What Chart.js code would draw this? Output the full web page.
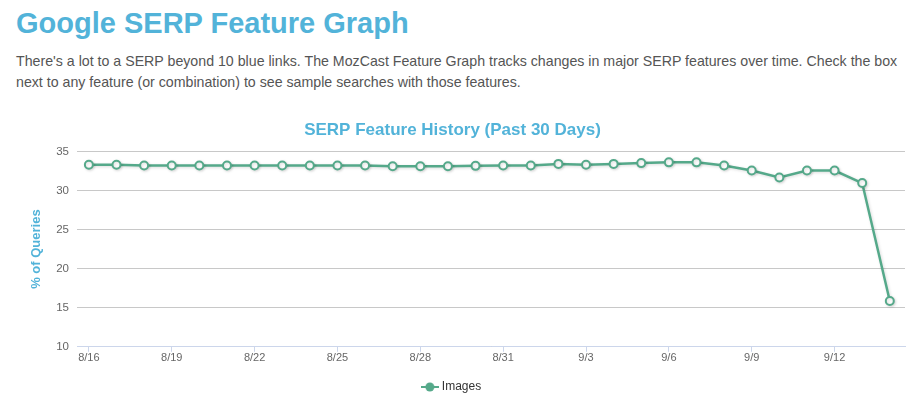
<!DOCTYPE html>
<html>
<head>
<meta charset="utf-8">
<script src="https://cdn.jsdelivr.net/npm/chart.js@4/dist/chart.umd.min.js"></script>
<style>
  html, body { margin: 0; padding: 0; background: #fff; }
  body { width: 916px; height: 403px; overflow: hidden; position: relative; font-family: "Liberation Sans", Arial, sans-serif; }
  h1 { position: absolute; left: 16px; top: 7px; margin: 0; font-size: 29px; font-weight: bold; color: #52b3d9; }
  p { position: absolute; left: 16px; top: 51px; margin: 0; font-size: 14.2px; line-height: 21px; color: #555; }
  #wrap { position: absolute; left: 0; top: 108px; width: 916px; height: 295px; }
</style>
</head>
<body>
<h1>Google SERP Feature Graph</h1>
<p>There's a lot to a SERP beyond 10 blue links. The MozCast Feature Graph tracks changes in major SERP features over time. Check the box<br>next to any feature (or combination) to see sample searches with those features.</p>
<div id="wrap"><canvas id="chart"></canvas></div>
<script>
// ---------- Data ----------
const days = ["8/16", "8/17", "8/18", "8/19", "8/20", "8/21", "8/22", "8/23", "8/24", "8/25",
  "8/26", "8/27", "8/28", "8/29", "8/30", "8/31", "9/1", "9/2", "9/3", "9/4",
  "9/5", "9/6", "9/7", "9/8", "9/9", "9/10", "9/11", "9/12", "9/13", "9/14"];
const images = [33.3, 33.3, 33.2, 33.2, 33.2, 33.2, 33.2, 33.2, 33.2, 33.2,
  33.2, 33.1, 33.1, 33.1, 33.15, 33.2, 33.2, 33.4, 33.3, 33.4,
  33.5, 33.6, 33.6, 33.2, 32.55, 31.65, 32.55, 32.55, 30.95, 15.85];
const yTicks = [10, 15, 20, 25, 30, 35];
const labelEvery = 3;

const green = "#55a98a";
const blue = "#52b3d9";

// legend marker: short line with a filled dot
const marker = document.createElement("canvas");
marker.width = 18; marker.height = 12;
(function () {
  const c = marker.getContext("2d");
  c.strokeStyle = green; c.lineWidth = 2;
  c.beginPath(); c.moveTo(0, 6); c.lineTo(18, 6); c.stroke();
  c.fillStyle = green;
  c.beginPath(); c.arc(9, 6, 4.5, 0, Math.PI * 2); c.fill();
})();

const shadow = {
  id: "shadow",
  beforeDatasetsDraw(chart) {
    const ctx = chart.ctx;
    ctx.save();
    ctx.shadowColor = "rgba(0,0,0,0.15)";
    ctx.shadowOffsetX = 1;
    ctx.shadowOffsetY = 1;
    ctx.shadowBlur = 3;
  },
  afterDatasetsDraw(chart) {
    chart.ctx.restore();
  },
};

new Chart(document.getElementById("chart"), {
  type: "line",
  data: {
    datasets: [{
      label: "Images",
      data: images.map((v, i) => ({ x: i, y: v })),
      borderColor: green,
      borderWidth: 2.5,
      pointRadius: 4,
      pointBorderWidth: 2,
      pointBackgroundColor: "#fff",
      pointBorderColor: green,
      tension: 0,
    }],
  },
  plugins: [shadow],
  options: {
    responsive: true,
    maintainAspectRatio: false,
    animation: false,
    layout: { padding: { left: 0, right: 11, top: 0, bottom: 0 } },
    plugins: {
      title: {
        display: true,
        text: "SERP Feature History (Past 30 Days)",
        color: blue,
        font: { family: "Liberation Sans", size: 17, weight: "bold" },
        padding: { top: 12, bottom: 11 },
      },
      legend: {
        position: "bottom",
        labels: {
          usePointStyle: true,
          pointStyle: marker,
          color: "#333",
          font: { family: "Liberation Sans", size: 12 },
          padding: 16,
        },
      },
      tooltip: { enabled: false },
    },
    scales: {
      x: {
        type: "linear",
        min: -0.43,
        max: 29.55,
        afterBuildTicks: (s) => {
          s.ticks = days.map((d, i) => ({ value: i })).filter((t) => t.value % labelEvery === 0);
        },
        ticks: {
          color: "#666",
          font: { family: "Liberation Sans", size: 11 },
          maxRotation: 0,
          autoSkip: false,
          padding: 0,
          callback: (v) => days[v],
        },
        grid: { drawOnChartArea: false, drawTicks: true, tickLength: 5, color: "#ccd6eb" },
        border: { color: "#ccd6eb", width: 1 },
      },
      y: {
        min: 10,
        max: 35,
        afterBuildTicks: (s) => { s.ticks = yTicks.map((v) => ({ value: v })); },
        afterFit: (s) => { s.width = 77; },
        title: {
          display: true,
          text: "% of Queries",
          color: blue,
          font: { family: "Liberation Sans", size: 13, weight: "bold" },
          padding: { top: 29, bottom: 0 },
        },
        ticks: {
          color: "#666",
          font: { family: "Liberation Sans", size: 11.5 },
          padding: 8,
        },
        grid: { color: "#c8c8c8", drawTicks: false },
        border: { display: false },
      },
    },
  },
});
</script>
</body>
</html>
